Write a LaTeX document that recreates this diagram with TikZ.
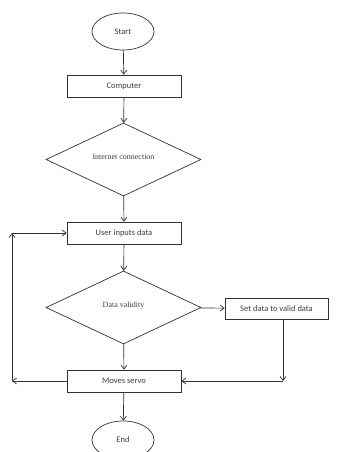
\documentclass[tikz,border=0pt]{standalone}
\usepackage{fontspec}
\setmainfont{Carlito}
\newfontfamily\timesfont{Liberation Serif}
\usetikzlibrary{shapes.geometric,arrows.meta}
\definecolor{flowline}{RGB}{50,50,50}
\definecolor{flowtext}{RGB}{60,60,75}

\begin{document}
\begin{tikzpicture}[x=1pt, y=-1pt, line width=0.7pt, >={Straight Barb[length=4pt,width=6pt]}]
    \useasboundingbox (0,0) rectangle (338,452);
    \tikzset{
        terminal/.style={draw=flowline, ellipse, minimum width=62pt, minimum height=37pt, inner sep=0pt, text=flowtext, font=\fontsize{8.5}{10}\selectfont},
        process/.style={draw=flowline, rectangle, minimum width=114pt, minimum height=22pt, inner sep=0pt, text=flowtext, font=\fontsize{8.5}{10}\selectfont},
        decision/.style={draw=flowline, diamond, minimum width=155pt, minimum height=73pt, inner sep=0pt, aspect=2.1, text=flowtext, font=\timesfont\fontsize{8}{10}\selectfont},
        flow/.style={draw=flowline, ->}
    }
    % Main column
    \node[terminal] (start) at (123,31.5) {Start};
    \node[process] (computer) at (124,86) {Computer};
    \node[decision] (internet) at (123.5,159.5) {\raisebox{5pt}{Internet connection}};
    \node[process] (userinput) at (124,233) {User inputs data};
    \node[decision] (validity) at (123.5,307.5) {\raisebox{5pt}{Data validity}};
    \node[process, minimum width=103pt, minimum height=21pt] (setvalid) at (276.5,308.5) {Set data to valid data};
    \node[process] (servo) at (124,381) {Moves servo};
    \node[terminal, minimum height=38pt] (finish) at (123,440) {End};

    % Corner points
    \coordinate (validcorner) at (283,381);
    \coordinate (loopbottom) at (12,381);
    \coordinate (looptop) at (12,233);

    % Connectors
    \draw[flow] (start) -- (computer);
    \draw[flow] (computer) -- (internet);
    \draw[flow] (internet) -- (userinput);
    \draw[flow] (userinput) -- (validity);
    \draw[flow] (validity) -- (setvalid);
    \draw[flow] (validity) -- (servo);
    \draw[flow] (setvalid.south -| validcorner) -- (validcorner);
    \draw[flow] (validcorner) -- (servo.east);
    \draw[flow] (servo) -- (finish);

    % Loop back
    \draw[flow] (servo.west) -- (loopbottom);
    \draw[flow] (loopbottom) -- (looptop);
    \draw[flow] (looptop) -- (userinput.west);
\end{tikzpicture}
\end{document}
